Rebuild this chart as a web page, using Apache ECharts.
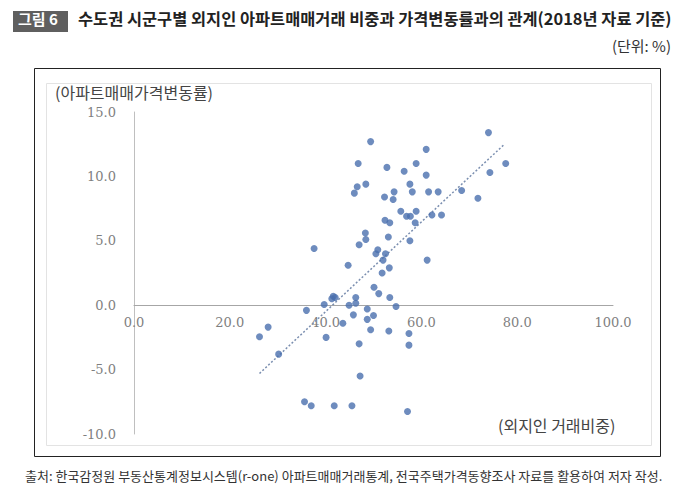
<!DOCTYPE html>
<html><head><meta charset="utf-8">
<script src="https://cdn.jsdelivr.net/npm/echarts@6/dist/echarts.min.js"></script>
<style>html,body{margin:0;padding:0;background:#fff}#c{width:685px;height:499px}</style>
</head><body><div id="c"></div>
<script>
// 외지인 거래비중 (%)
const shareX = [74.0,49.4,61.0,46.8,52.8,58.9,77.6,74.3,56.4,61.0,57.6,48.4,46.6,46.0,54.3,58.1,61.5,63.5,68.4,52.3,54.1,71.8,55.7,58.9,56.9,57.7,62.2,64.2,52.4,53.4,58.7,48.3,53.1,47.0,48.4,57.6,37.6,50.9,50.5,52.5,52.0,44.7,61.2,53.3,51.8,50.1,51.1,53.4,41.6,41.3,42.0,46.3,46.3,44.9,39.7,36.0,54.7,48.7,45.8,48.7,50.0,43.6,49.4,53.2,57.4,40.1,47.0,57.4,47.2,35.6,37.0,41.8,45.5,57.1,28.0,26.2,30.2];
// 아파트매매가격변동률 (%)
const priceY = [13.4,12.7,12.1,11.0,10.7,11.0,11.0,10.3,10.4,10.1,9.4,9.4,9.2,8.7,8.8,8.8,8.8,8.8,8.9,8.4,8.2,8.3,7.3,7.3,6.9,6.9,7.0,7.0,6.6,6.4,6.4,5.6,5.3,4.7,5.1,5.0,4.4,4.3,4.0,4.0,3.5,3.1,3.5,2.9,2.5,1.4,0.9,0.6,0.7,0.5,0.6,0.6,0.15,0.0,0.05,-0.4,-0.1,-0.3,-0.75,-1.1,-0.8,-1.4,-1.9,-2.0,-2.2,-2.5,-3.0,-3.1,-5.5,-7.5,-7.8,-7.8,-7.8,-8.25,-1.7,-2.45,-3.8];
// 추세선 끝점
const trendX = [26.2, 77.2];
const trendY = [-5.3, 12.45];
const xTicks = {min: 0, max: 100, step: 20};
const yTicks = {min: -10, max: 15, step: 5};

const titleTag = '그림 6';
const titleText = '수도권 시군구별 외지인 아파트매매거래 비중과 가격변동률과의 관계(2018년 자료 기준)';
const unitText = '(단위: %)';
const yName = '(아파트매매가격변동률)';
const xName = '(외지인 거래비중)';
const sourceText = '출처: 한국감정원 부동산통계정보시스템(r-one) 아파트매매거래통계, 전국주택가격동향조사 자료를 활용하여 저자 작성.';

const FONT = '"Noto Sans CJK KR", "Noto Sans", sans-serif';
const TICKFONT = '"DejaVu Serif", serif';
const W = 685, H = 499;
const GRID = {left: 134, right: 72, top: 112, bottom: 65};
const gridH = H - GRID.top - GRID.bottom;
// move the x axis (line + labels) up to where y = 0
const zeroOffset = -((0 - yTicks.min) / (yTicks.max - yTicks.min)) * gridH;

const chart = echarts.init(document.getElementById('c'), null, {renderer: 'svg'});
const pts = shareX.map((x, i) => [x, priceY[i]]);
const trend = trendX.map((x, i) => [x, trendY[i]]);

chart.setOption({
  animation: false,
  backgroundColor: '#fff',
  grid: GRID,
  xAxis: {
    type: 'value', min: xTicks.min, max: xTicks.max, interval: xTicks.step,
    position: 'bottom', offset: zeroOffset,
    axisLine: {show: true, onZero: false, lineStyle: {color: '#a6a6a6', width: 1}},
    axisTick: {show: false},
    splitLine: {show: false},
    axisLabel: {formatter: v => v.toFixed(1), color: '#7f7f7f', fontSize: 13, fontFamily: TICKFONT, margin: 11}
  },
  yAxis: {
    type: 'value', min: yTicks.min, max: yTicks.max, interval: yTicks.step,
    axisLine: {show: true, onZero: false, lineStyle: {color: '#bfbfbf', width: 1}},
    axisTick: {show: false},
    splitLine: {show: false},
    axisLabel: {formatter: v => v.toFixed(1), color: '#7f7f7f', fontSize: 13, fontFamily: TICKFONT, margin: 18}
  },
  series: [
    {
      type: 'line', data: trend, symbol: 'none', silent: true, z: 1,
      lineStyle: {color: '#7b8fb0', width: 1.5, type: [2, 2]}
    },
    {
      type: 'scatter', data: pts, symbol: 'circle', symbolSize: 7, z: 2,
      itemStyle: {color: '#4a6fae'}
    }
  ],
  graphic: [
    {type: 'rect', shape: {x: 34.5, y: 68.5, width: 626, height: 388}, style: {fill: 'none', stroke: '#222', lineWidth: 1}, z: -10},
    {type: 'rect', shape: {x: 46.5, y: 83.5, width: 605, height: 362}, style: {fill: 'none', stroke: '#e3e3e3', lineWidth: 1}, z: -9},
    {type: 'rect', shape: {x: 13, y: 11, width: 55, height: 21}, style: {fill: '#5f5f5f'}},
    {type: 'text', left: 18, top: 11, style: {text: titleTag, fill: '#fff', font: 'bold 15px ' + FONT}},
    {type: 'text', left: 78, top: 10, style: {text: titleText, fill: '#222', font: 'bold 16.4px ' + FONT}},
    {type: 'text', right: 14, top: 38, style: {text: unitText, fill: '#333', font: '15px ' + FONT}},
    {type: 'text', left: 55, top: 84, style: {text: yName, fill: '#444', font: '16px ' + FONT}},
    {type: 'text', left: 498, top: 417, style: {text: xName, fill: '#444', font: '16px ' + FONT}},
    {type: 'text', left: 25, top: 469, style: {text: sourceText, fill: '#333', font: '13px ' + FONT}}
  ]
});
</script></body></html>
